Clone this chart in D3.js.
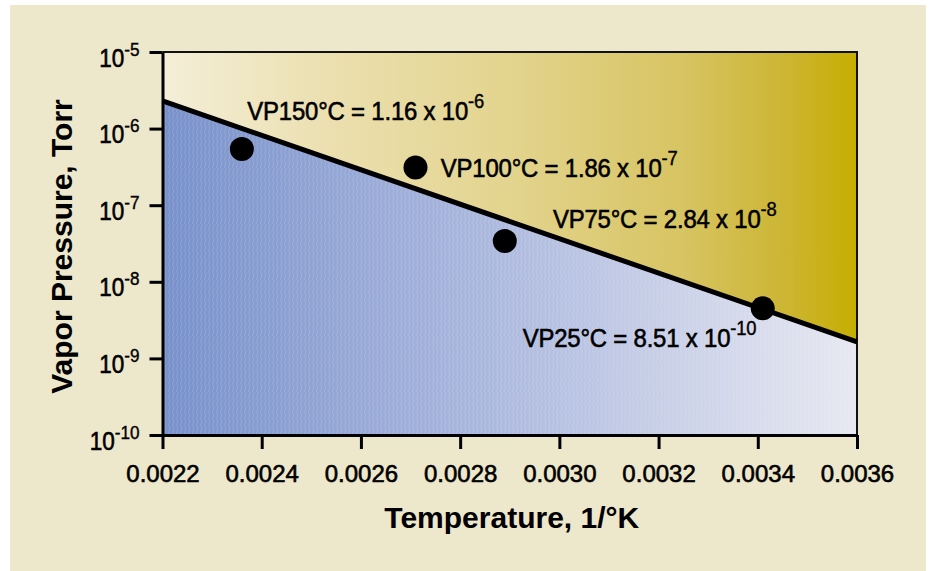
<!DOCTYPE html>
<html>
<head>
<meta charset="utf-8">
<script src="https://cdn.jsdelivr.net/npm/d3@7"></script>
<style>
  html, body { margin: 0; padding: 0; background: #ffffff; }
  svg { display: block; }
  text { font-family: "Liberation Sans", Arial, Helvetica, sans-serif; fill: #000; }
</style>
</head>
<body>
<div id="chart"></div>
<script>
// ---- data ----
const xTicks = [0.0022, 0.0024, 0.0026, 0.0028, 0.0030, 0.0032, 0.0034, 0.0036];
const yExponents = [-5, -6, -7, -8, -9, -10];

// measured points (1/T, vapor pressure in Torr)
const pointInvT = [0.00236, 0.00271, 0.00289, 0.00341];
const pointVP   = [5.4e-7, 3.1e-7, 3.4e-8, 4.5e-9];

// fitted line end points
const fitInvT = [0.0022, 0.0036];
const fitVP   = [2.3e-6, 1.64e-9];

// annotations
const labelMain = ["VP150°C = 1.16 x 10", "VP100°C = 1.86 x 10", "VP75°C = 2.84 x 10", "VP25°C = 8.51 x 10"];
const labelExp  = ["-6", "-7", "-8", "-10"];
const labelInvT = [0.002371, 0.002761, 0.002987, 0.002926];
const labelVP   = [1.29e-6, 2.36e-7, 5.03e-8, 1.42e-9];

// ---- drawing ----
const W = 930, H = 571;
const svg = d3.select("#chart").append("svg").attr("width", W).attr("height", H);

const mLeft = 162.5, mRight = 857, mTop = 52, mBottom = 435;
const x = d3.scaleLinear().domain([0.0022, 0.0036]).range([mLeft, mRight]);
const y = d3.scaleLog().domain([1e-10, 1e-5]).range([mBottom, mTop]);

const defs = svg.append("defs");
const gGold = defs.append("linearGradient").attr("id", "gold").attr("x1", "0").attr("x2", "1").attr("y1", "0").attr("y2", "0");
[[0, "#f4eed8"], [0.25, "#ebdfae"], [0.5, "#e3d48e"], [0.75, "#d7c462"], [0.9, "#ccb532"], [1, "#c6ae00"]]
  .forEach(([o, c]) => gGold.append("stop").attr("offset", o).attr("stop-color", c));
const gBlue = defs.append("linearGradient").attr("id", "blue").attr("x1", "0").attr("x2", "1").attr("y1", "0").attr("y2", "0");
[[0, "#7891ca"], [0.5, "#afbbdf"], [1, "#e7e8f1"]]
  .forEach(([o, c]) => gBlue.append("stop").attr("offset", o).attr("stop-color", c));
const pat = defs.append("pattern").attr("id", "hatch").attr("patternUnits", "userSpaceOnUse")
  .attr("width", 4).attr("height", 7);
pat.append("line").attr("x1", 0.5).attr("y1", 7).attr("x2", 2).attr("y2", 0)
  .attr("stroke", "#ffffff").attr("stroke-opacity", 0.18).attr("stroke-width", 0.8);

// panel
svg.append("rect").attr("x", 10).attr("y", 5).attr("width", 916).attr("height", 566).attr("fill", "#ede7cb");

const fitPts = fitInvT.map((v, i) => [v, fitVP[i]]);

// upper (gold) area
svg.append("path")
  .datum(fitPts)
  .attr("fill", "url(#gold)")
  .attr("d", d3.area().x(d => x(d[0])).y0(() => y(1e-5)).y1(d => y(d[1])));
// lower (blue) area
svg.append("path")
  .datum(fitPts)
  .attr("fill", "url(#blue)")
  .attr("d", d3.area().x(d => x(d[0])).y0(() => y(1e-10)).y1(d => y(d[1])));
svg.append("path")
  .datum(fitPts)
  .attr("fill", "url(#hatch)")
  .attr("d", d3.area().x(d => x(d[0])).y0(() => y(1e-10)).y1(d => y(d[1])));

// frame top/right
svg.append("path")
  .attr("d", `M${mLeft},${mTop}H${mRight}V${mBottom}`)
  .attr("fill", "none").attr("stroke", "#111").attr("stroke-width", 2);

// fit line
svg.append("path")
  .datum(fitPts)
  .attr("fill", "none").attr("stroke", "#000").attr("stroke-width", 5)
  .attr("d", d3.line().x(d => x(d[0])).y(d => y(d[1])));

// points
svg.selectAll("circle.pt").data(pointInvT).enter().append("circle")
  .attr("class", "pt")
  .attr("cx", d => x(d)).attr("cy", (d, i) => y(pointVP[i])).attr("r", 12)
  .attr("fill", "#000");

// x axis
const xAxis = svg.append("g").attr("transform", `translate(0,${mBottom})`)
  .call(d3.axisBottom(x).tickValues(xTicks).tickSize(14).tickSizeOuter(0).tickFormat(d3.format(".4f")));
xAxis.select(".domain").attr("stroke", "#000").attr("stroke-width", 3);
xAxis.selectAll(".tick line").attr("stroke", "#000").attr("stroke-width", 3);
xAxis.selectAll(".tick text").attr("font-size", 24).attr("dy", null).attr("y", 47)
  .style("font-family", "Liberation Sans, Arial, sans-serif").attr("fill", "#000")
  .attr("stroke", "#000").attr("stroke-width", 0.6);

// y axis
const yTickVals = yExponents.map(e => Math.pow(10, e));
const yAxis = svg.append("g").attr("transform", `translate(${mLeft},0)`)
  .call(d3.axisLeft(y).tickValues(yTickVals).tickSize(13).tickSizeOuter(0).tickFormat(""));
yAxis.select(".domain").attr("stroke", "#000").attr("stroke-width", 3);
yAxis.selectAll(".tick line").attr("stroke", "#000").attr("stroke-width", 3);
yAxis.selectAll(".tick").each(function (d, i) {
  const e = Math.round(Math.log10(d));
  const t = d3.select(this).append("text")
    .attr("transform", "translate(-23,14) scale(0.9,1)")
    .attr("text-anchor", "end").attr("font-size", 25).attr("fill", "#000")
    .attr("stroke", "#000").attr("stroke-width", 0.6);
  t.append("tspan").text("10");
  t.append("tspan").attr("dy", -11).attr("font-size", 19).attr("stroke-width", 0.4).text(String(e));
});

// annotations
labelMain.forEach((s, i) => {
  const t = svg.append("text")
    .attr("transform", `translate(${x(labelInvT[i])},${y(labelVP[i])}) scale(0.92,1)`)
    .attr("font-size", 26).attr("letter-spacing", -0.2)
    .attr("stroke", "#000").attr("stroke-width", 0.6);
  t.append("tspan").text(s);
  t.append("tspan").attr("dy", -12).attr("font-size", 20).attr("stroke-width", 0.4).text(labelExp[i]);
});

// axis titles
svg.append("text")
  .attr("x", (mLeft + mRight) / 2 + 2).attr("y", 528)
  .attr("text-anchor", "middle").attr("font-size", 30).attr("font-weight", "bold")
  .text("Temperature, 1/°K");
svg.append("text")
  .attr("transform", `translate(72,${(mTop + mBottom) / 2 + 3}) rotate(-90)`)
  .attr("text-anchor", "middle").attr("font-size", 30).attr("font-weight", "bold")
  .text("Vapor Pressure, Torr");
</script>
</body>
</html>
